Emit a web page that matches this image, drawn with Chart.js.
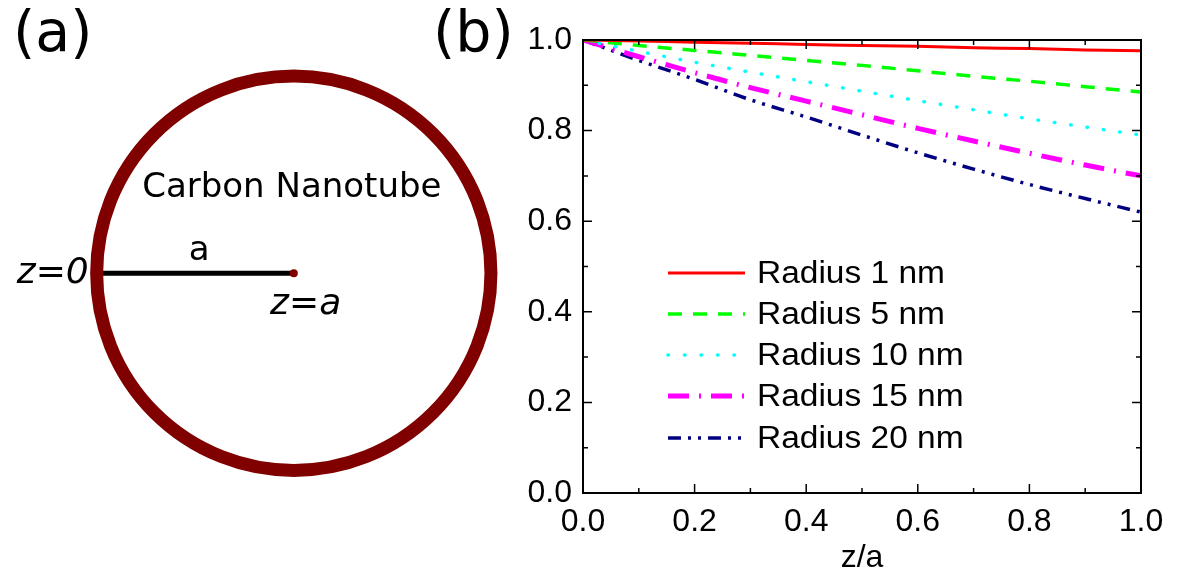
<!DOCTYPE html>
<html>
<head>
<meta charset="utf-8">
<script src="https://cdn.jsdelivr.net/npm/chart.js@4.4.1/dist/chart.umd.min.js"></script>
<style>
  body { margin: 0; background: #fff; width: 1178px; height: 583px; position: relative; overflow: hidden; }
  canvas { position: absolute; top: 0; }
  #diagram { left: 0; }
  #plot { left: 480px; }
  .panel-label { position: absolute; font-family: "DejaVu Sans", sans-serif; font-size: 57px; line-height: 1; color: #000; }
</style>
</head>
<body>
<div class="panel-label" style="left:13px; top:3px;">(a)</div>
<div class="panel-label" style="left:433px; top:3px;">(b)</div>
<canvas id="diagram" width="560" height="583"></canvas>
<canvas id="plot" width="698" height="583"></canvas>
<script>
// ---- data for panel (b) ----
const zOverA = [0, 0.1, 0.2, 0.3, 0.4, 0.5, 0.6, 0.7, 0.8, 0.9, 1.0];
const radius1 = [1.0, 0.998, 0.995, 0.993, 0.990, 0.988, 0.986, 0.983, 0.981, 0.978, 0.976];
const radius5 = [1.0, 0.988, 0.977, 0.966, 0.955, 0.944, 0.932, 0.920, 0.909, 0.897, 0.885];
const radius10 = [1.0, 0.975, 0.951, 0.929, 0.908, 0.887, 0.866, 0.846, 0.826, 0.808, 0.790];
const radius15 = [1.0, 0.963, 0.928, 0.895, 0.865, 0.835, 0.805, 0.777, 0.750, 0.724, 0.700];
const radius20 = [1.0, 0.955, 0.913, 0.868, 0.830, 0.790, 0.751, 0.715, 0.681, 0.650, 0.620];
const seriesNames = ['Radius 1 nm', 'Radius 5 nm', 'Radius 10 nm', 'Radius 15 nm', 'Radius 20 nm'];
const yTicks = [0.0, 0.2, 0.4, 0.6, 0.8, 1.0];

// ---- data for panel (a), in units of the tube radius a ----
const tubeCenter = [{ x: 0, y: 0 }];
const radiusSegment = [{ x: -1, y: 0 }, { x: 0, y: 0 }];

function toPoints(vals) {
  return vals.map((v, i) => ({ x: zOverA[i], y: v }));
}

// Panel (a): nanotube cross-section
const diagramText = {
  id: 'diagramText',
  afterDatasetsDraw(chart) {
    const { ctx, scales: { x, y } } = chart;
    ctx.save();
    ctx.fillStyle = '#000';
    ctx.textBaseline = 'middle';
    ctx.font = '34px "DejaVu Sans"';
    ctx.textAlign = 'center';
    ctx.fillText('Carbon Nanotube', x.getPixelForValue(-0.01), y.getPixelForValue(0.43));
    ctx.fillText('a', x.getPixelForValue(-0.48), y.getPixelForValue(0.11));
    ctx.font = 'italic 36px "DejaVu Sans"';
    ctx.textAlign = 'right';
    ctx.fillText('z=0', x.getPixelForValue(-1.04), y.getPixelForValue(0));
    ctx.textAlign = 'center';
    ctx.fillText('z=a', x.getPixelForValue(0.06), y.getPixelForValue(-0.16));
    ctx.restore();
  }
};

new Chart(document.getElementById('diagram'), {
  type: 'scatter',
  data: {
    datasets: [
      {
        data: tubeCenter,
        pointStyle: 'circle',
        pointRadius: ctx => ctx.chart.scales.x.getPixelForValue(1) - ctx.chart.scales.x.getPixelForValue(0),
        backgroundColor: 'rgba(0,0,0,0)',
        borderColor: '#800000',
        borderWidth: 13
      },
      {
        data: tubeCenter,
        pointRadius: 4,
        backgroundColor: '#800000',
        borderColor: '#800000',
        borderWidth: 0
      },
      {
        data: radiusSegment,
        showLine: true,
        borderColor: '#000',
        borderWidth: 5,
        pointRadius: 0
      }
    ]
  },
  options: {
    responsive: false,
    animation: false,
    devicePixelRatio: 1,
    layout: { padding: 0 },
    plugins: { legend: { display: false }, tooltip: { enabled: false } },
    events: [],
    scales: {
      x: { display: false, min: -294 / 200, max: (560 - 294) / 200 },
      y: { display: false, min: -(583 - 273) / 200, max: 273 / 200 }
    }
  },
  plugins: [diagramText]
});

// Panel (b): frame, inward ticks and legend
const frameAndTicks = {
  id: 'frameAndTicks',
  afterDraw(chart) {
    const { ctx, chartArea: a, scales: { x, y } } = chart;
    ctx.save();
    ctx.strokeStyle = '#000';
    ctx.lineWidth = 2;
    ctx.strokeRect(a.left, a.top, a.right - a.left, a.bottom - a.top);
    ctx.lineWidth = 1.5;
    const xt = x.ticks.map(t => t.value);
    const yt = y.ticks.map(t => t.value);
    const marks = (vals) => {
      const out = [];
      vals.forEach((v, i) => {
        out.push([v, 9]);
        if (i < vals.length - 1) out.push([(v + vals[i + 1]) / 2, 5]);
      });
      return out;
    };
    ctx.beginPath();
    marks(xt).forEach(([v, len]) => {
      const px = x.getPixelForValue(v);
      ctx.moveTo(px, a.bottom); ctx.lineTo(px, a.bottom - len);
      ctx.moveTo(px, a.top); ctx.lineTo(px, a.top + len);
    });
    marks(yt).forEach(([v, len]) => {
      const py = y.getPixelForValue(v);
      ctx.moveTo(a.left, py); ctx.lineTo(a.left + len, py);
      ctx.moveTo(a.right, py); ctx.lineTo(a.right - len, py);
    });
    ctx.stroke();

    // legend inside the plot
    const rows = [273, 314, 355, 396, 438];
    chart.data.datasets.forEach((ds, i) => {
      const yy = rows[i];
      ctx.beginPath();
      ctx.strokeStyle = ds.borderColor;
      ctx.lineWidth = ds.borderWidth;
      ctx.lineCap = ds.borderCapStyle || 'butt';
      ctx.setLineDash(ds.borderDash || []);
      ctx.moveTo(188, yy);
      ctx.lineTo(265, yy);
      ctx.stroke();
      ctx.setLineDash([]);
      ctx.save();
      ctx.translate(277, yy + 1);
      ctx.scale(1.08, 1);
      ctx.fillStyle = '#000';
      ctx.font = '31px "Liberation Sans"';
      ctx.textAlign = 'left';
      ctx.textBaseline = 'middle';
      ctx.fillText(ds.label, 0, 0);
      ctx.restore();
    });
    ctx.restore();
  }
};

new Chart(document.getElementById('plot'), {
  type: 'line',
  data: {
    datasets: [
      { label: seriesNames[0], data: toPoints(radius1), borderColor: '#ff0000', borderWidth: 3 },
      { label: seriesNames[1], data: toPoints(radius5), borderColor: '#00ff00', borderWidth: 3.5, borderDash: [14, 11] },
      { label: seriesNames[2], data: toPoints(radius10), borderColor: '#00ffff', borderWidth: 3.5, borderDash: [0.5, 16], borderCapStyle: 'round' },
      { label: seriesNames[3], data: toPoints(radius15), borderColor: '#ff00ff', borderWidth: 5, borderDash: [21, 10, 2, 10], borderCapStyle: 'butt' },
      { label: seriesNames[4], data: toPoints(radius20), borderColor: '#000080', borderWidth: 3.5, borderDash: [13, 7, 3, 7, 3, 7] }
    ]
  },
  options: {
    responsive: false,
    animation: false,
    devicePixelRatio: 1,
    events: [],
    layout: { padding: { top: 40, right: 37, bottom: 0, left: 0 } },
    elements: { point: { radius: 0 }, line: { cubicInterpolationMode: 'monotone' } },
    plugins: { legend: { display: false }, tooltip: { enabled: false } },
    scales: {
      x: {
        type: 'linear',
        min: 0,
        max: 1,
        afterFit: s => { s.height = 90; },
        grid: { display: false, drawTicks: false },
        border: { display: false },
        ticks: {
          stepSize: 0.2,
          padding: 10,
          color: '#000',
          font: { family: 'Liberation Sans', size: 32 },
          callback: v => v.toFixed(1)
        },
        title: {
          display: true,
          text: 'z/a',
          color: '#000',
          font: { family: 'Liberation Sans', size: 32 },
          padding: { top: 0, bottom: 6 }
        }
      },
      y: {
        type: 'linear',
        min: yTicks[0],
        max: yTicks[yTicks.length - 1],
        afterFit: s => { s.width = 103; },
        grid: { display: false, drawTicks: false },
        border: { display: false },
        ticks: {
          stepSize: 0.2,
          padding: 11,
          color: '#000',
          font: { family: 'Liberation Sans', size: 32 },
          callback: v => v.toFixed(1)
        }
      }
    }
  },
  plugins: [frameAndTicks]
});
</script>
</body>
</html>
